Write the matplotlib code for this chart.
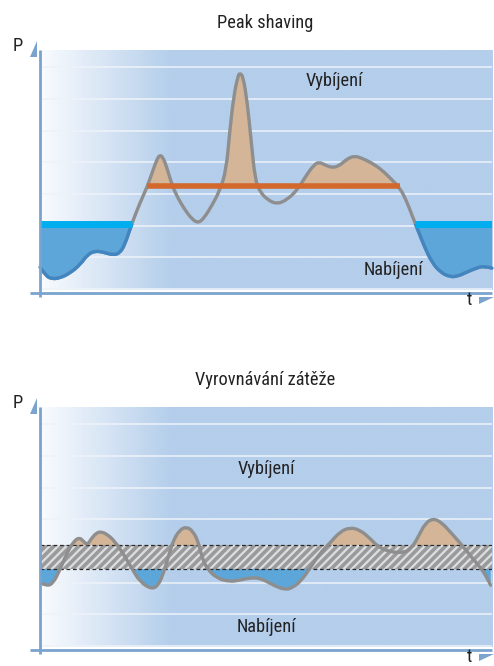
import numpy as np
import matplotlib
matplotlib.use("Agg")
import matplotlib.pyplot as plt
from matplotlib.patches import Polygon, Rectangle, PathPatch
from matplotlib.path import Path
from matplotlib.colors import LinearSegmentedColormap
from matplotlib import font_manager

_names = {f.name for f in font_manager.fontManager.ttflist}
_family = next((n for n in ['Liberation Sans Narrow', 'Roboto Condensed',
                            'Open Sans Condensed', 'Roboto'] if n in _names), 'DejaVu Sans')
plt.rcParams['font.family'] = [_family, 'DejaVu Sans']
plt.rcParams['font.stretch'] = 'condensed'
plt.rcParams['hatch.linewidth'] = 2.6

# ---------------- data ----------------
titles = ["Peak shaving", "Vyrovnávání zátěže"]
label_discharge = "Vybíjení"
label_charge = "Nabíjení"
axis_p = "P"
axis_t = "t"

# Peak shaving load profile (time 0-100, power in grid units)
t_peak = [0, 1.3, 2.7, 4.4, 6.6, 8.8, 10.6, 12.2, 13.9, 16.2, 17.7, 18.8, 19.9, 20.8,
          22.1, 23.7, 25.0, 25.9, 26.5, 27.2, 28.1, 29.2, 30.5, 32.1, 33.6, 35.0,
          36.3, 38.1, 39.8, 41.2, 42.0, 42.9, 43.8, 44.2, 44.9, 45.8, 46.7, 47.6,
          48.7, 50.4, 52.4, 54.6, 56.9, 59.1, 60.6, 61.7, 63.1, 64.8, 66.4, 67.9,
          69.5, 71.2, 73.5, 75.7, 77.9, 79.6, 81.0, 82.3, 83.6, 85.2, 86.7, 88.5,
          90.7, 92.5, 94.5, 96.5, 98.2, 100]
p_peak = [0.69, 0.41, 0.32, 0.35, 0.50, 0.76, 1.10, 1.20, 1.17, 1.07, 1.14, 1.42, 1.89, 2.24,
          2.71, 3.22, 3.75, 4.10, 4.23, 4.16, 3.82, 3.28, 2.87, 2.49, 2.21, 2.08,
          2.24, 2.65, 3.12, 3.75, 5.02, 6.12, 6.72, 6.81, 6.72, 5.96, 4.70, 3.44,
          3.06, 2.81, 2.68, 2.81, 3.12, 3.63, 3.91, 4.01, 3.91, 3.82, 3.91, 4.10,
          4.20, 4.13, 3.97, 3.75, 3.44, 3.19, 2.81, 2.33, 1.86, 1.29, 0.85, 0.54,
          0.38, 0.41, 0.54, 0.66, 0.73, 0.66]
peak_limit = 3.25            # discharge threshold (orange line)
peak_limit_span = [23.7, 79.6]
charge_limit = 2.05          # charge threshold (cyan line)
charge_spans = [[0, 20.4], [83.0, 100]]

# Load levelling profile
t_level = [0, 1.5, 2.9, 4.4, 5.9, 7.4, 8.7, 9.7, 10.5, 11.4, 12.5, 13.6, 15.1, 16.6,
           18.4, 20.3, 22.1, 24.7, 26.2, 27.3, 28.4, 29.5, 31.0, 32.5, 33.9, 35.0,
           35.8, 36.9, 39.1, 42.0, 44.2, 47.2, 49.4, 51.6, 54.2, 56.0, 57.9, 59.7,
           61.9, 64.2, 66.4, 68.6, 70.8, 73.0, 74.8, 77.4, 80.4, 82.2, 83.7, 85.2,
           87.0, 88.9, 90.7, 92.9, 95.1, 97.3, 98.8, 99.7]
p_level = [2.00, 1.89, 1.98, 2.40, 2.92, 3.29, 3.43, 3.29, 3.19, 3.40, 3.57, 3.61, 3.50, 3.29,
           2.92, 2.45, 2.03, 1.79, 1.92, 2.29, 2.82, 3.34, 3.68, 3.76, 3.61, 3.29,
           2.82, 2.45, 2.14, 2.03, 2.08, 2.17, 2.10, 1.92, 1.77, 1.85, 2.08, 2.45,
           2.92, 3.26, 3.61, 3.74, 3.66, 3.40, 3.13, 2.97, 2.94, 3.08, 3.45, 3.87,
           4.03, 3.89, 3.61, 3.26, 2.87, 2.50, 2.19, 1.92]
band_low, band_high = 2.42, 3.19

grid_levels = [0, 1, 2, 3, 4, 5, 6, 7]

# ---------------- style ----------------
W, H = 494, 666
BG = "#b4ceeb"
GRID = "#eef3fa"
CURVE = "#8e8e8e"
PEACH = "#d5b597"
BLUEFILL = "#5da6da"
BLUELINE = "#3f86c3"
CYAN = "#00aeef"
ORANGE = "#d2682c"
AXIS = "#7aa3cd"
TXT = "#222222"
FS = 13.2

fig = plt.figure(figsize=(W / 100, H / 100), dpi=100)

cmap = LinearSegmentedColormap.from_list("bg", [(0, "#f9fbfe"), (0.29, BG), (1, BG)])
grad = np.linspace(0, 1, 400).reshape(1, -1)

YLIM = (-0.03, 7.54)


def smooth_verts(t, p):
    """Quadratic B-spline path using the read points as control points."""
    pts = np.column_stack([t, p])
    verts = [pts[0]]
    codes = [Path.MOVETO]
    n = len(pts)
    for i in range(1, n - 1):
        end = pts[n - 1] if i == n - 2 else (pts[i] + pts[i + 1]) / 2
        verts += [pts[i], end]
        codes += [Path.CURVE3, Path.CURVE3]
    return verts, codes


def curve_path(t, p):
    v, c = smooth_verts(t, p)
    return Path(v, c)


def region_path(t, p, to_y):
    v, c = smooth_verts(t, p)
    v = list(v) + [(t[-1], to_y), (t[0], to_y), v[0]]
    c = list(c) + [Path.LINETO, Path.LINETO, Path.CLOSEPOLY]
    return Path(v, c)


def add_region(ax, t, p, to_y, color, clip_box, z):
    patch = PathPatch(region_path(t, p, to_y), facecolor=color, edgecolor="none", lw=0, zorder=z)
    ax.add_patch(patch)
    x0, y0, x1, y1 = clip_box
    patch.set_clip_path(Rectangle((x0, y0), x1 - x0, y1 - y0, transform=ax.transData))


def add_curve(ax, t, p, color, z, clip_box=None):
    patch = PathPatch(curve_path(t, p), facecolor="none", edgecolor=color, lw=2.4,
                      joinstyle="round", capstyle="round", zorder=z)
    ax.add_patch(patch)
    if clip_box is not None:
        x0, y0, x1, y1 = clip_box
        patch.set_clip_path(Rectangle((x0, y0), x1 - x0, y1 - y0, transform=ax.transData))


def make_axes(top_px):
    ax = fig.add_axes([40 / W, 1 - (top_px + 240) / H, 452 / W, 240 / H])
    ax.set_xlim(0, 100)
    ax.set_ylim(*YLIM)
    ax.axis("off")
    ax.imshow(grad, cmap=cmap, extent=(0, 100, YLIM[0], YLIM[1]), aspect="auto",
              zorder=0, interpolation="bicubic")
    for g in grid_levels:
        ax.axhline(g, xmin=0.007, color=GRID, lw=1.1, zorder=1)
    return ax


# ---- top panel ----
ax1 = make_axes(50)
t1 = np.array(t_peak)
p1 = np.array(p_peak)
add_region(ax1, t1, p1, YLIM[0], PEACH,
           (peak_limit_span[0], peak_limit, peak_limit_span[1], YLIM[1]), 2)
for a, b in charge_spans:
    add_region(ax1, t1, p1, YLIM[1], BLUEFILL, (a, YLIM[0], b, charge_limit), 2)
add_curve(ax1, t1, p1, CURVE, 3)
for a, b in charge_spans:
    add_curve(ax1, t1, p1, BLUELINE, 4, (a - 1, YLIM[0] - 1, b + 1, charge_limit))
    ax1.plot([a, b], [charge_limit, charge_limit], color=CYAN, lw=5, zorder=5,
             solid_capstyle="butt")
ax1.plot(peak_limit_span, [peak_limit, peak_limit], color=ORANGE, lw=4, zorder=5,
         solid_capstyle="butt")
ax1.text(65.2, 6.56, label_discharge, ha="center", va="center", fontsize=FS, color=TXT, zorder=6)
ax1.text(78.2, 0.6, label_charge, ha="center", va="center", fontsize=FS, color=TXT, zorder=6)

# ---- bottom panel ----
ax2 = make_axes(407)
t2 = np.array(t_level)
p2 = np.array(p_level)
ax2.fill_between([0, 100], band_low, band_high, facecolor="#dcdde0", edgecolor="#9a9a9a",
                 hatch="////", lw=0, zorder=2)
for y in (band_low, band_high):
    ax2.axhline(y, color="#2a2a2a", lw=0.9, ls=(0, (3, 2.2)), zorder=2.5)
add_region(ax2, t2, p2, YLIM[0], PEACH, (0, band_high, 100, YLIM[1]), 2.2)
add_region(ax2, t2, p2, YLIM[1], BLUEFILL, (0, YLIM[0], 100, band_low), 2.2)
add_curve(ax2, t2, p2, CURVE, 3)
ax2.text(50, 5.6, label_discharge, ha="center", va="center", fontsize=FS, color=TXT, zorder=6)
ax2.text(50, 0.6, label_charge, ha="center", va="center", fontsize=FS, color=TXT, zorder=6)

# ---- decorations (axes lines, arrows, titles) in pixel space ----
ov = fig.add_axes([0, 0, 1, 1], zorder=10)
ov.set_xlim(0, W)
ov.set_ylim(H, 0)
ov.axis("off")
ov.patch.set_alpha(0)
for dy, title in zip((0, 357), titles):
    ov.plot([40, 40], [50 + dy, 297 + dy], color=AXIS, lw=2, solid_capstyle="butt")
    ov.plot([30, 492], [293 + dy, 293 + dy], color=AXIS, lw=2, solid_capstyle="butt")
    ov.add_patch(Polygon([(30, 57 + dy), (37, 57 + dy), (37, 41 + dy)], closed=True,
                         color=AXIS, lw=0))
    ov.add_patch(Polygon([(479, 297 + dy), (494, 297 + dy), (479, 304 + dy)], closed=True,
                         color=AXIS, lw=0))
    ov.text(18, 46 + dy, axis_p, ha="center", va="center", fontsize=FS, color=TXT)
    ov.text(470, 300 + dy, axis_t, ha="center", va="center", fontsize=FS, color=TXT)
    ov.text(265, 23 + dy, title, ha="center", va="center", fontsize=FS, color=TXT)

fig.savefig("out.png", dpi=100)
